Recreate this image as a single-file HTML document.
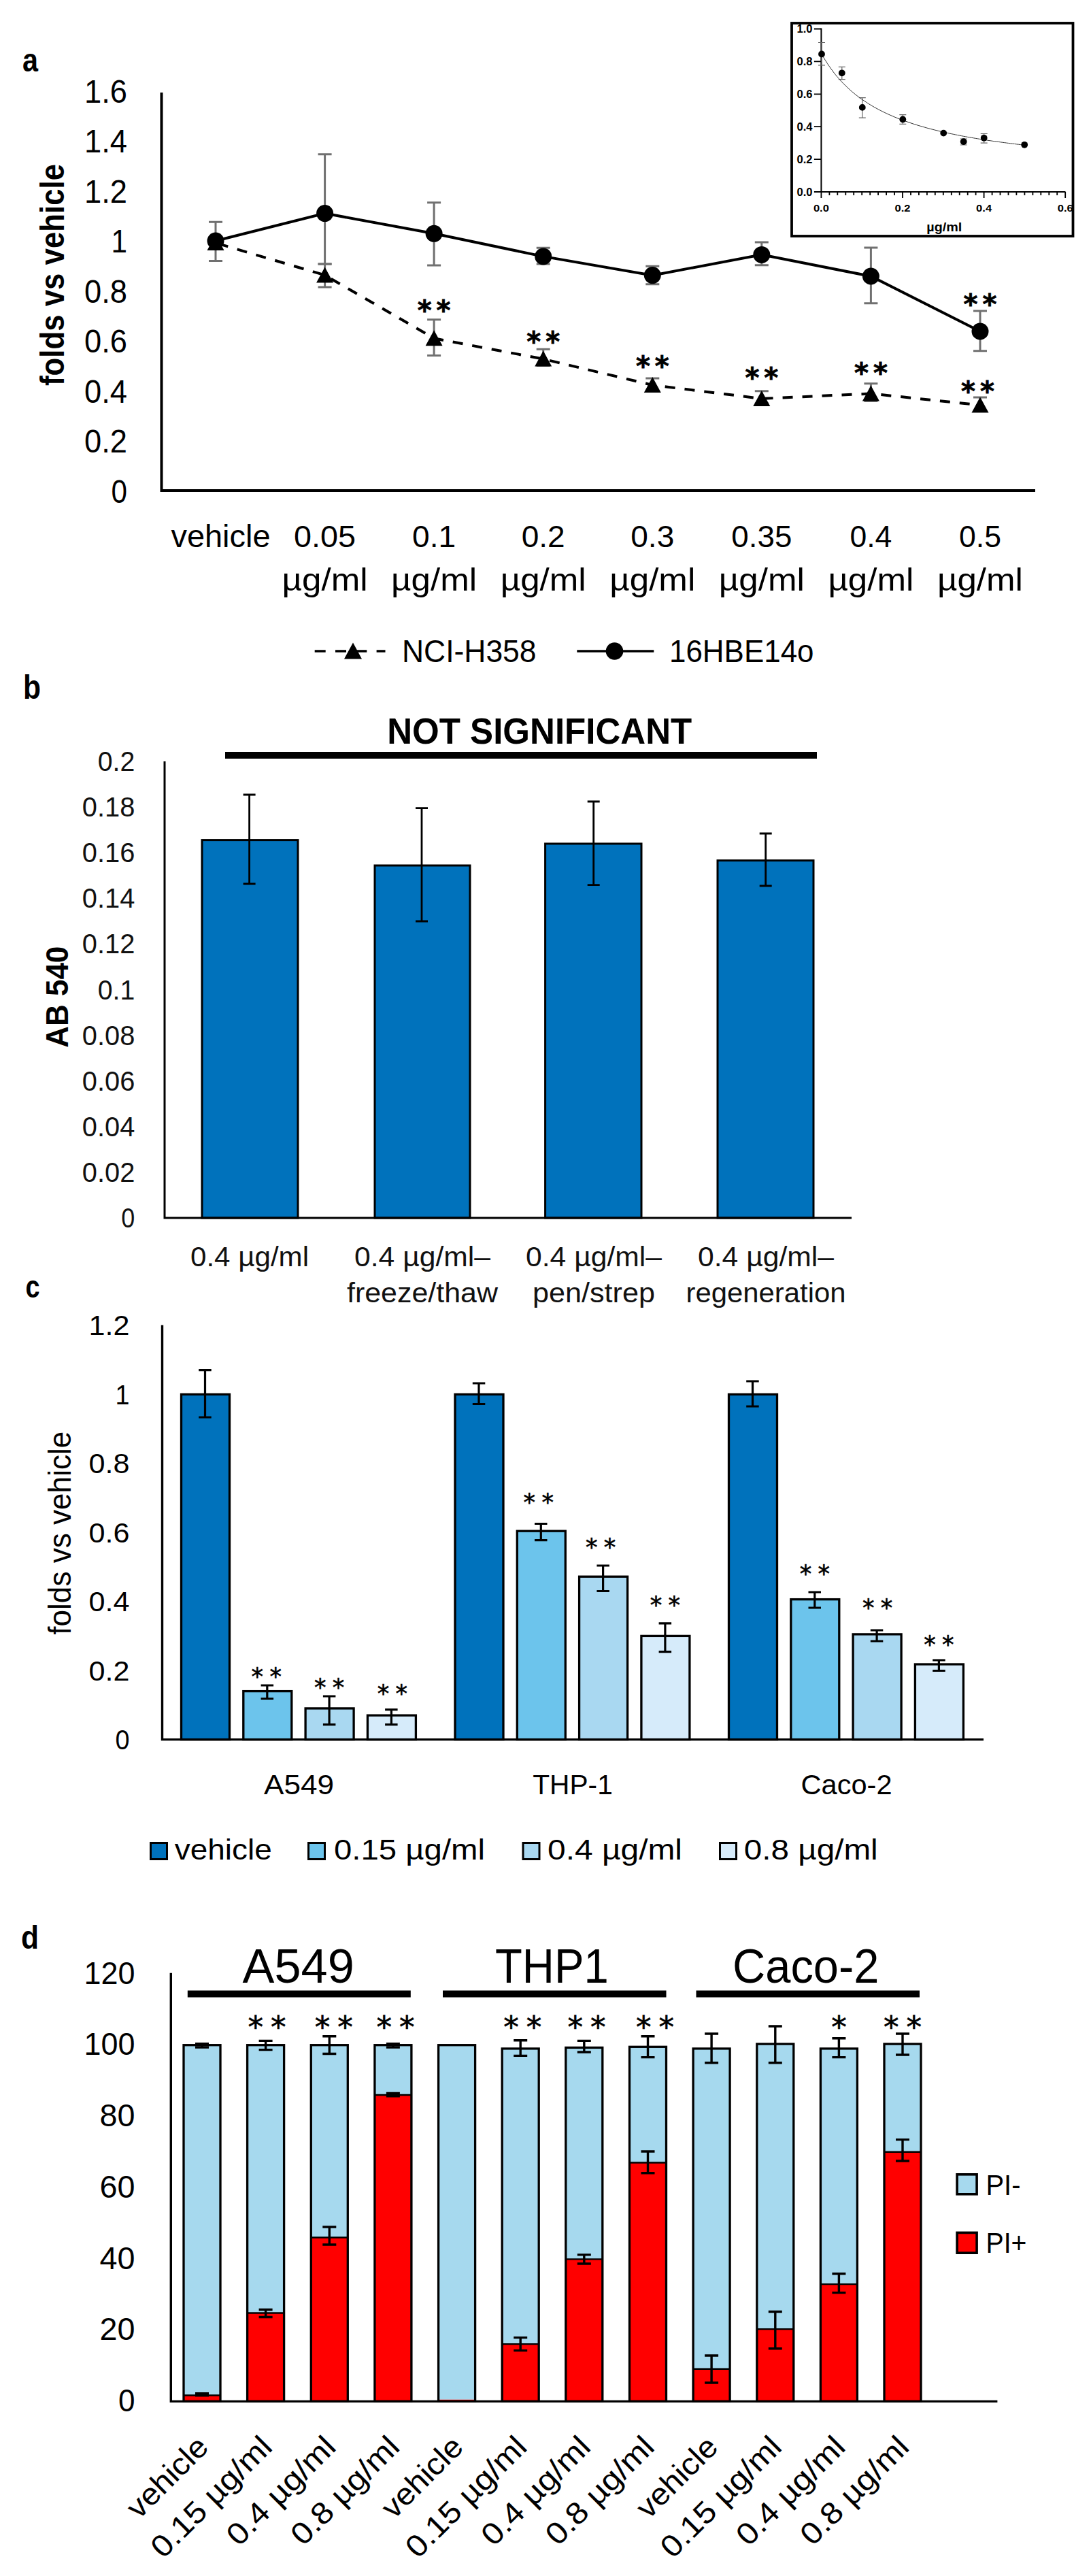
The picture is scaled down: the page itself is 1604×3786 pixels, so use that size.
<!DOCTYPE html>
<html lang="en">
<head>
<meta charset="utf-8">
<title>Figure</title>
<style>
html,body{margin:0;padding:0;background:#fff;}
body{width:1604px;height:3786px;overflow:hidden;}
svg{display:block;}
svg text{font-family:"Liberation Sans",sans-serif;}
svg text.st{font-family:"DejaVu Sans","Liberation Sans",sans-serif;}
</style>
</head>
<body>
<svg width="1604" height="3786" viewBox="0 0 1604 3786">
<rect width="1604" height="3786" fill="#fff"/>
<!-- panel a -->
<text font-size="48" font-weight="bold" textLength="23" lengthAdjust="spacingAndGlyphs" x="33" y="105">a</text>
<path d="M237.5 136V721H1522" fill="none" stroke="#000" stroke-width="4"/>
<text font-size="49" text-anchor="end" textLength="23.5" lengthAdjust="spacingAndGlyphs" x="187" y="738.8">0</text>
<text font-size="49" text-anchor="end" textLength="63" lengthAdjust="spacingAndGlyphs" x="187" y="665.3">0.2</text>
<text font-size="49" text-anchor="end" textLength="63" lengthAdjust="spacingAndGlyphs" x="187" y="591.8">0.4</text>
<text font-size="49" text-anchor="end" textLength="63" lengthAdjust="spacingAndGlyphs" x="187" y="518.3">0.6</text>
<text font-size="49" text-anchor="end" textLength="63" lengthAdjust="spacingAndGlyphs" x="187" y="444.79999999999995">0.8</text>
<text font-size="49" text-anchor="end" textLength="23.5" lengthAdjust="spacingAndGlyphs" x="187" y="371.29999999999995">1</text>
<text font-size="49" text-anchor="end" textLength="63" lengthAdjust="spacingAndGlyphs" x="187" y="297.7999999999999">1.2</text>
<text font-size="49" text-anchor="end" textLength="63" lengthAdjust="spacingAndGlyphs" x="187" y="224.29999999999995">1.4</text>
<text font-size="49" text-anchor="end" textLength="63" lengthAdjust="spacingAndGlyphs" x="187" y="150.79999999999995">1.6</text>
<text font-size="50" text-anchor="middle" font-weight="bold" textLength="326" lengthAdjust="spacingAndGlyphs" transform="translate(94,404) rotate(-90)">folds vs vehicle</text>
<path d="M317.0 326.3V383.5M307.0 326.3h20M307.0 383.5h20" fill="none" stroke="#707070" stroke-width="3"/>
<path d="M477.6 226.7V387.9M467.6 226.7h20M467.6 387.9h20" fill="none" stroke="#707070" stroke-width="3"/>
<path d="M638.1 297.7V390.1M628.1 297.7h20M628.1 390.1h20" fill="none" stroke="#707070" stroke-width="3"/>
<path d="M798.7 364.2V387.9M788.7 364.2h20M788.7 387.9h20" fill="none" stroke="#707070" stroke-width="3"/>
<path d="M959.3 391.3V417.8M949.3 391.3h20M949.3 417.8h20" fill="none" stroke="#707070" stroke-width="3"/>
<path d="M1119.8 356.0V389.8M1109.8 356.0h20M1109.8 389.8h20" fill="none" stroke="#707070" stroke-width="3"/>
<path d="M1280.4 364.0V445.8M1270.4 364.0h20M1270.4 445.8h20" fill="none" stroke="#707070" stroke-width="3"/>
<path d="M1441.0 456.9V515.8M1431.0 456.9h20M1431.0 515.8h20" fill="none" stroke="#707070" stroke-width="3"/>
<path d="M477.6 387.9V422.0M467.6 387.9h20M467.6 422.0h20" fill="none" stroke="#707070" stroke-width="3"/>
<path d="M638.1 469.8V522.6M628.1 469.8h20M628.1 522.6h20" fill="none" stroke="#707070" stroke-width="3"/>
<path d="M798.7 513.3V537.5M788.7 513.3h20M788.7 537.5h20" fill="none" stroke="#707070" stroke-width="3"/>
<path d="M959.3 556.0V575.0M949.3 556.0h20M949.3 575.0h20" fill="none" stroke="#707070" stroke-width="3"/>
<path d="M1119.8 574.8V593.0M1109.8 574.8h20M1109.8 593.0h20" fill="none" stroke="#707070" stroke-width="3"/>
<path d="M1280.4 563.7V589.5M1270.4 563.7h20M1270.4 589.5h20" fill="none" stroke="#707070" stroke-width="3"/>
<path d="M1441.0 584.0V604.0M1431.0 584.0h20M1431.0 604.0h20" fill="none" stroke="#707070" stroke-width="3"/>
<polyline fill="none" stroke="#000" stroke-width="4" points="317.0,354.0 477.6,313.6 638.1,343.3 798.7,376.9 959.3,404.6 1119.8,374.4 1280.4,406.0 1441.0,487.0"/>
<polyline fill="none" stroke="#000" stroke-width="4" stroke-dasharray="15 14" stroke-dashoffset="-4" points="317.0,357.0 477.6,404.4 638.1,497.3 798.7,527.6 959.3,566.0 1119.8,585.9 1280.4,578.5 1441.0,595.4"/>
<circle cx="317.0" cy="354.0" r="12.5"/>
<circle cx="477.6" cy="313.6" r="12.5"/>
<circle cx="638.1" cy="343.3" r="12.5"/>
<circle cx="798.7" cy="376.9" r="12.5"/>
<circle cx="959.3" cy="404.6" r="12.5"/>
<circle cx="1119.8" cy="374.4" r="12.5"/>
<circle cx="1280.4" cy="406.0" r="12.5"/>
<circle cx="1441.0" cy="487.0" r="12.5"/>
<path d="M317.0 345.0l12.5 23h-25z"/>
<path d="M477.6 392.4l12.5 23h-25z"/>
<path d="M638.1 485.3l12.5 23h-25z"/>
<path d="M798.7 515.6l12.5 23h-25z"/>
<path d="M959.3 554.0l12.5 23h-25z"/>
<path d="M1119.8 573.9l12.5 23h-25z"/>
<path d="M1280.4 566.5l12.5 23h-25z"/>
<path d="M1441.0 583.4l12.5 23h-25z"/>
<text x="641.6" y="469.8" font-size="40" text-anchor="middle" letter-spacing="7" class="st" font-weight="bold" stroke="#000" stroke-width="0.8">**</text>
<text x="802.2" y="515.6" font-size="40" text-anchor="middle" letter-spacing="7" class="st" font-weight="bold" stroke="#000" stroke-width="0.8">**</text>
<text x="962.8" y="552.2" font-size="40" text-anchor="middle" letter-spacing="7" class="st" font-weight="bold" stroke="#000" stroke-width="0.8">**</text>
<text x="1123.3" y="569.3" font-size="40" text-anchor="middle" letter-spacing="7" class="st" font-weight="bold" stroke="#000" stroke-width="0.8">**</text>
<text x="1283.9" y="561.9" font-size="40" text-anchor="middle" letter-spacing="7" class="st" font-weight="bold" stroke="#000" stroke-width="0.8">**</text>
<text x="1441.0" y="589.2" font-size="40" text-anchor="middle" letter-spacing="7" class="st" font-weight="bold" stroke="#000" stroke-width="0.8">**</text>
<text x="1444.5" y="460.5" font-size="40" text-anchor="middle" letter-spacing="7" class="st" font-weight="bold" stroke="#000" stroke-width="0.8">**</text>
<text font-size="47" textLength="146" lengthAdjust="spacingAndGlyphs" x="251.5" y="804">vehicle</text>
<text font-size="45" text-anchor="middle" textLength="91" lengthAdjust="spacingAndGlyphs" x="477.57" y="804">0.05</text>
<text font-size="47" text-anchor="middle" textLength="126" lengthAdjust="spacingAndGlyphs" x="477.57" y="868">µg/ml</text>
<text font-size="45" text-anchor="middle" textLength="64" lengthAdjust="spacingAndGlyphs" x="638.14" y="804">0.1</text>
<text font-size="47" text-anchor="middle" textLength="126" lengthAdjust="spacingAndGlyphs" x="638.14" y="868">µg/ml</text>
<text font-size="45" text-anchor="middle" textLength="64" lengthAdjust="spacingAndGlyphs" x="798.71" y="804">0.2</text>
<text font-size="47" text-anchor="middle" textLength="126" lengthAdjust="spacingAndGlyphs" x="798.71" y="868">µg/ml</text>
<text font-size="45" text-anchor="middle" textLength="64" lengthAdjust="spacingAndGlyphs" x="959.28" y="804">0.3</text>
<text font-size="47" text-anchor="middle" textLength="126" lengthAdjust="spacingAndGlyphs" x="959.28" y="868">µg/ml</text>
<text font-size="45" text-anchor="middle" textLength="89" lengthAdjust="spacingAndGlyphs" x="1119.85" y="804">0.35</text>
<text font-size="47" text-anchor="middle" textLength="126" lengthAdjust="spacingAndGlyphs" x="1119.85" y="868">µg/ml</text>
<text font-size="45" text-anchor="middle" textLength="62" lengthAdjust="spacingAndGlyphs" x="1280.42" y="804">0.4</text>
<text font-size="47" text-anchor="middle" textLength="126" lengthAdjust="spacingAndGlyphs" x="1280.42" y="868">µg/ml</text>
<text font-size="45" text-anchor="middle" textLength="62" lengthAdjust="spacingAndGlyphs" x="1440.99" y="804">0.5</text>
<text font-size="47" text-anchor="middle" textLength="126" lengthAdjust="spacingAndGlyphs" x="1440.99" y="868">µg/ml</text>
<line x1="462.7" y1="957.0" x2="566.5" y2="957.0" stroke="#000" stroke-width="3.5" stroke-dasharray="16 14.3"/>
<path d="M519 944.5l13 24h-26z"/>
<text font-size="47" textLength="197.5" lengthAdjust="spacingAndGlyphs" x="591" y="973">NCI-H358</text>
<line x1="848.3" y1="957.0" x2="961.3" y2="957.0" stroke="#000" stroke-width="3.5"/>
<circle cx="903.5" cy="957" r="12.8"/>
<text font-size="47" textLength="212.5" lengthAdjust="spacingAndGlyphs" x="984" y="973">16HBE14o</text>
<!-- inset -->
<path d="M1207.4 41.5V282.0H1566.5" fill="none" stroke="#000" stroke-width="2"/>
<text font-size="16.5" text-anchor="end" font-weight="bold" textLength="23" lengthAdjust="spacingAndGlyphs" x="1194.5" y="287.9">0.0</text>
<text font-size="16.5" text-anchor="end" font-weight="bold" textLength="23" lengthAdjust="spacingAndGlyphs" x="1194.5" y="240.0">0.2</text>
<text font-size="16.5" text-anchor="end" font-weight="bold" textLength="23" lengthAdjust="spacingAndGlyphs" x="1194.5" y="192.1">0.4</text>
<text font-size="16.5" text-anchor="end" font-weight="bold" textLength="23" lengthAdjust="spacingAndGlyphs" x="1194.5" y="144.2">0.6</text>
<text font-size="16.5" text-anchor="end" font-weight="bold" textLength="23" lengthAdjust="spacingAndGlyphs" x="1194.5" y="96.29999999999998">0.8</text>
<text font-size="16.5" text-anchor="end" font-weight="bold" textLength="23" lengthAdjust="spacingAndGlyphs" x="1194.5" y="48.4">1.0</text>
<path d="M1196.9 282.0h10.5M1196.9 234.1h10.5M1196.9 186.2h10.5M1196.9 138.3h10.5M1196.9 90.4h10.5M1196.9 42.5h10.5M1207.4 282.0v9M1219.4 282.0v5M1231.3 282.0v5M1243.3 282.0v5M1255.2 282.0v5M1267.2 282.0v5M1279.2 282.0v5M1291.1 282.0v5M1303.1 282.0v5M1315.0 282.0v5M1327.0 282.0v9M1339.0 282.0v5M1350.9 282.0v5M1362.9 282.0v5M1374.8 282.0v5M1386.8 282.0v5M1398.8 282.0v5M1410.7 282.0v5M1422.7 282.0v5M1434.6 282.0v5M1446.6 282.0v9M1458.6 282.0v5M1470.5 282.0v5M1482.5 282.0v5M1494.4 282.0v5M1506.4 282.0v5M1518.4 282.0v5M1530.3 282.0v5M1542.3 282.0v5M1554.2 282.0v5M1566.2 282.0v9" fill="none" stroke="#000" stroke-width="1.8"/>
<text font-size="15.5" text-anchor="middle" font-weight="bold" textLength="23" lengthAdjust="spacingAndGlyphs" x="1207.4" y="311">0.0</text>
<text font-size="15.5" text-anchor="middle" font-weight="bold" textLength="23" lengthAdjust="spacingAndGlyphs" x="1327.0" y="311">0.2</text>
<text font-size="15.5" text-anchor="middle" font-weight="bold" textLength="23" lengthAdjust="spacingAndGlyphs" x="1446.6000000000001" y="311">0.4</text>
<text font-size="15.5" text-anchor="middle" font-weight="bold" textLength="23" lengthAdjust="spacingAndGlyphs" x="1566.2" y="311">0.6</text>
<text font-size="18" text-anchor="middle" font-weight="bold" textLength="52" lengthAdjust="spacingAndGlyphs" x="1388.3" y="339.5">µg/ml</text>
<path d="M1208.0 62.5V95.8M1203.0 62.5h10M1203.0 95.8h10" fill="none" stroke="#666" stroke-width="1.2"/>
<path d="M1237.8 98.3V116.6M1232.8 98.3h10M1232.8 116.6h10" fill="none" stroke="#666" stroke-width="1.2"/>
<path d="M1267.8 143.7V173.2M1262.8 143.7h10M1262.8 173.2h10" fill="none" stroke="#666" stroke-width="1.2"/>
<path d="M1327.3 168.6V182.4M1322.3 168.6h10M1322.3 182.4h10" fill="none" stroke="#666" stroke-width="1.2"/>
<path d="M1416.7 204.0V213.0M1411.7 204.0h10M1411.7 213.0h10" fill="none" stroke="#666" stroke-width="1.2"/>
<path d="M1446.7 196.5V210.2M1441.7 196.5h10M1441.7 210.2h10" fill="none" stroke="#666" stroke-width="1.2"/>
<polyline fill="none" stroke="#333" stroke-width="1" points="1207.4,78.4 1210.4,83.7 1213.4,88.6 1216.4,93.3 1219.4,97.7 1222.4,101.9 1225.3,105.9 1228.3,109.7 1231.3,113.3 1234.3,116.7 1237.3,120.0 1240.3,123.1 1243.3,126.1 1246.3,129.0 1249.3,131.7 1252.2,134.3 1255.2,136.8 1258.2,139.3 1261.2,141.6 1264.2,143.8 1267.2,146.0 1270.2,148.0 1273.2,150.0 1276.2,151.9 1279.2,153.8 1282.2,155.6 1285.1,157.3 1288.1,159.0 1291.1,160.6 1294.1,162.2 1297.1,163.7 1300.1,165.2 1303.1,166.6 1306.1,168.0 1309.1,169.3 1312.1,170.6 1315.0,171.9 1318.0,173.1 1321.0,174.3 1324.0,175.5 1327.0,176.6 1330.0,177.7 1333.0,178.7 1336.0,179.8 1339.0,180.8 1342.0,181.8 1344.9,182.8 1347.9,183.7 1350.9,184.6 1353.9,185.5 1356.9,186.4 1359.9,187.2 1362.9,188.1 1365.9,188.9 1368.9,189.7 1371.9,190.4 1374.8,191.2 1377.8,191.9 1380.8,192.7 1383.8,193.4 1386.8,194.1 1389.8,194.7 1392.8,195.4 1395.8,196.1 1398.8,196.7 1401.8,197.3 1404.7,197.9 1407.7,198.5 1410.7,199.1 1413.7,199.7 1416.7,200.3 1419.7,200.8 1422.7,201.4 1425.7,201.9 1428.7,202.4 1431.7,202.9 1434.6,203.4 1437.6,203.9 1440.6,204.4 1443.6,204.9 1446.6,205.4 1449.6,205.8 1452.6,206.3 1455.6,206.7 1458.6,207.2 1461.5,207.6 1464.5,208.0 1467.5,208.4 1470.5,208.8 1473.5,209.2 1476.5,209.6 1479.5,210.0 1482.5,210.4 1485.5,210.8 1488.5,211.2 1491.5,211.5 1494.4,211.9 1497.4,212.2 1500.4,212.6 1503.4,212.9 1506.4,213.3"/>
<circle cx="1208.0" cy="79.5" r="4.9"/>
<circle cx="1237.8" cy="107.3" r="4.9"/>
<circle cx="1267.8" cy="157.9" r="4.9"/>
<circle cx="1327.3" cy="175.5" r="4.9"/>
<circle cx="1387.2" cy="195.6" r="4.9"/>
<circle cx="1416.7" cy="208.2" r="4.9"/>
<circle cx="1446.7" cy="202.8" r="4.9"/>
<circle cx="1506.2" cy="212.8" r="4.9"/>
<rect x="1164" y="34" width="413.5" height="313" fill="none" stroke="#000" stroke-width="3.8"/>
<!-- panel b -->
<text font-size="50" font-weight="bold" textLength="26" lengthAdjust="spacingAndGlyphs" x="34" y="1027">b</text>
<text font-size="54.5" text-anchor="middle" font-weight="bold" textLength="448" lengthAdjust="spacingAndGlyphs" x="793.2" y="1092.5">NOT SIGNIFICANT</text>
<line x1="331.0" y1="1110.0" x2="1201.0" y2="1110.0" stroke="#000" stroke-width="10"/>
<text font-size="40" text-anchor="end" textLength="20" lengthAdjust="spacingAndGlyphs" fill="#111" x="198.3" y="1804.0">0</text>
<text font-size="40" text-anchor="end" textLength="77.5" lengthAdjust="spacingAndGlyphs" fill="#111" x="198.3" y="1736.9">0.02</text>
<text font-size="40" text-anchor="end" textLength="77.5" lengthAdjust="spacingAndGlyphs" fill="#111" x="198.3" y="1669.8">0.04</text>
<text font-size="40" text-anchor="end" textLength="77.5" lengthAdjust="spacingAndGlyphs" fill="#111" x="198.3" y="1602.7">0.06</text>
<text font-size="40" text-anchor="end" textLength="77.5" lengthAdjust="spacingAndGlyphs" fill="#111" x="198.3" y="1535.6">0.08</text>
<text font-size="40" text-anchor="end" textLength="54.5" lengthAdjust="spacingAndGlyphs" fill="#111" x="198.3" y="1468.5">0.1</text>
<text font-size="40" text-anchor="end" textLength="77.5" lengthAdjust="spacingAndGlyphs" fill="#111" x="198.3" y="1401.4">0.12</text>
<text font-size="40" text-anchor="end" textLength="77.5" lengthAdjust="spacingAndGlyphs" fill="#111" x="198.3" y="1334.3">0.14</text>
<text font-size="40" text-anchor="end" textLength="77.5" lengthAdjust="spacingAndGlyphs" fill="#111" x="198.3" y="1267.2">0.16</text>
<text font-size="40" text-anchor="end" textLength="77.5" lengthAdjust="spacingAndGlyphs" fill="#111" x="198.3" y="1200.1">0.18</text>
<text font-size="40" text-anchor="end" textLength="54.5" lengthAdjust="spacingAndGlyphs" fill="#111" x="198.3" y="1133.0">0.2</text>
<text font-size="46" text-anchor="middle" font-weight="bold" textLength="149" lengthAdjust="spacingAndGlyphs" transform="translate(99.6,1465.2) rotate(-90)">AB 540</text>
<rect x="297.0" y="1234.6" width="141.0" height="555.4" fill="#0072bc" stroke="#000" stroke-width="3"/>
<rect x="551.0" y="1272.0" width="140.0" height="518.0" fill="#0072bc" stroke="#000" stroke-width="3"/>
<rect x="801.6" y="1240.0" width="141.4" height="550.0" fill="#0072bc" stroke="#000" stroke-width="3"/>
<rect x="1055.0" y="1264.7" width="141.0" height="525.3" fill="#0072bc" stroke="#000" stroke-width="3"/>
<path d="M242 1119V1790H1252" fill="none" stroke="#000" stroke-width="3"/>
<path d="M366.6 1168.0V1299.0M357.6 1168.0h18M357.6 1299.0h18" fill="none" stroke="#000" stroke-width="2.8"/>
<path d="M620.0 1187.7V1354.0M611.0 1187.7h18M611.0 1354.0h18" fill="none" stroke="#000" stroke-width="2.8"/>
<path d="M872.7 1178.0V1300.6M863.7 1178.0h18M863.7 1300.6h18" fill="none" stroke="#000" stroke-width="2.8"/>
<path d="M1125.7 1225.0V1302.0M1116.7 1225.0h18M1116.7 1302.0h18" fill="none" stroke="#000" stroke-width="2.8"/>
<text font-size="40" text-anchor="middle" textLength="174" lengthAdjust="spacingAndGlyphs" fill="#111" x="367" y="1861.2">0.4 µg/ml</text>
<text font-size="40" text-anchor="middle" textLength="200" lengthAdjust="spacingAndGlyphs" fill="#111" x="621" y="1861.2">0.4 µg/ml–</text>
<text font-size="40.5" text-anchor="middle" textLength="222" lengthAdjust="spacingAndGlyphs" fill="#111" x="621" y="1913.6">freeze/thaw</text>
<text font-size="40" text-anchor="middle" textLength="200" lengthAdjust="spacingAndGlyphs" fill="#111" x="873" y="1861.2">0.4 µg/ml–</text>
<text font-size="40.5" text-anchor="middle" textLength="180" lengthAdjust="spacingAndGlyphs" fill="#111" x="873" y="1913.6">pen/strep</text>
<text font-size="40" text-anchor="middle" textLength="200" lengthAdjust="spacingAndGlyphs" fill="#111" x="1126" y="1861.2">0.4 µg/ml–</text>
<text font-size="40.5" text-anchor="middle" textLength="235" lengthAdjust="spacingAndGlyphs" fill="#111" x="1126" y="1913.6">regeneration</text>
<!-- panel c -->
<text font-size="47" font-weight="bold" textLength="21" lengthAdjust="spacingAndGlyphs" x="37.5" y="1907">c</text>
<text font-size="41" text-anchor="end" textLength="21" lengthAdjust="spacingAndGlyphs" x="190.5" y="2571.1">0</text>
<text font-size="41" text-anchor="end" textLength="60" lengthAdjust="spacingAndGlyphs" x="190.5" y="2469.64">0.2</text>
<text font-size="41" text-anchor="end" textLength="60" lengthAdjust="spacingAndGlyphs" x="190.5" y="2368.18">0.4</text>
<text font-size="41" text-anchor="end" textLength="60" lengthAdjust="spacingAndGlyphs" x="190.5" y="2266.72">0.6</text>
<text font-size="41" text-anchor="end" textLength="60" lengthAdjust="spacingAndGlyphs" x="190.5" y="2165.2599999999998">0.8</text>
<text font-size="41" text-anchor="end" textLength="21" lengthAdjust="spacingAndGlyphs" x="190.5" y="2063.7999999999997">1</text>
<text font-size="41" text-anchor="end" textLength="60" lengthAdjust="spacingAndGlyphs" x="190.5" y="1962.3399999999997">1.2</text>
<text font-size="46" text-anchor="middle" textLength="299" lengthAdjust="spacingAndGlyphs" transform="translate(103.8,2253.2) rotate(-90)">folds vs vehicle</text>
<rect x="266.5" y="2049.3" width="71.0" height="507.3" fill="#0072bc" stroke="#000" stroke-width="3.3"/>
<rect x="357.8" y="2485.6" width="71.0" height="71.0" fill="#6cc4ec" stroke="#000" stroke-width="3.3"/>
<rect x="449.1" y="2510.9" width="71.0" height="45.7" fill="#a9d8f1" stroke="#000" stroke-width="3.3"/>
<rect x="540.4" y="2521.1" width="71.0" height="35.5" fill="#d6ebfa" stroke="#000" stroke-width="3.3"/>
<rect x="669.0" y="2049.3" width="71.0" height="507.3" fill="#0072bc" stroke="#000" stroke-width="3.3"/>
<rect x="760.3" y="2250.2" width="71.0" height="306.4" fill="#6cc4ec" stroke="#000" stroke-width="3.3"/>
<rect x="851.6" y="2317.2" width="71.0" height="239.4" fill="#a9d8f1" stroke="#000" stroke-width="3.3"/>
<rect x="942.9" y="2404.4" width="71.0" height="152.2" fill="#d6ebfa" stroke="#000" stroke-width="3.3"/>
<rect x="1071.5" y="2049.3" width="71.0" height="507.3" fill="#0072bc" stroke="#000" stroke-width="3.3"/>
<rect x="1162.8" y="2350.6" width="71.0" height="206.0" fill="#6cc4ec" stroke="#000" stroke-width="3.3"/>
<rect x="1254.1" y="2401.9" width="71.0" height="154.7" fill="#a9d8f1" stroke="#000" stroke-width="3.3"/>
<rect x="1345.4" y="2446.0" width="71.0" height="110.6" fill="#d6ebfa" stroke="#000" stroke-width="3.3"/>
<path d="M301.5 2013.6V2083.0M292.2 2013.6h18.5M292.2 2083.0h18.5" fill="none" stroke="#000" stroke-width="3.2"/>
<path d="M392.8 2477.0V2496.5M383.6 2477.0h18.5M383.6 2496.5h18.5" fill="none" stroke="#000" stroke-width="3.2"/>
<text x="396.4" y="2476.0" font-size="35" text-anchor="middle" letter-spacing="9.3" class="st" stroke="#000" stroke-width="0.6">**</text>
<path d="M484.1 2493.0V2534.6M474.9 2493.0h18.5M474.9 2534.6h18.5" fill="none" stroke="#000" stroke-width="3.2"/>
<text x="488.8" y="2492.4" font-size="35" text-anchor="middle" letter-spacing="9.3" class="st" stroke="#000" stroke-width="0.6">**</text>
<path d="M575.4 2512.6V2534.6M566.1 2512.6h18.5M566.1 2534.6h18.5" fill="none" stroke="#000" stroke-width="3.2"/>
<text x="581.6" y="2501.4" font-size="35" text-anchor="middle" letter-spacing="9.3" class="st" stroke="#000" stroke-width="0.6">**</text>
<path d="M704.0 2033.0V2063.5M694.8 2033.0h18.5M694.8 2063.5h18.5" fill="none" stroke="#000" stroke-width="3.2"/>
<path d="M795.3 2239.5V2263.7M786.0 2239.5h18.5M786.0 2263.7h18.5" fill="none" stroke="#000" stroke-width="3.2"/>
<text x="796.4" y="2220.4" font-size="35" text-anchor="middle" letter-spacing="9.3" class="st" stroke="#000" stroke-width="0.6">**</text>
<path d="M886.6 2301.0V2338.5M877.4 2301.0h18.5M877.4 2338.5h18.5" fill="none" stroke="#000" stroke-width="3.2"/>
<text x="887.8" y="2286.4" font-size="35" text-anchor="middle" letter-spacing="9.3" class="st" stroke="#000" stroke-width="0.6">**</text>
<path d="M977.9 2385.8V2427.6M968.6 2385.8h18.5M968.6 2427.6h18.5" fill="none" stroke="#000" stroke-width="3.2"/>
<text x="982.5" y="2371.4" font-size="35" text-anchor="middle" letter-spacing="9.3" class="st" stroke="#000" stroke-width="0.6">**</text>
<path d="M1106.5 2030.0V2067.0M1097.2 2030.0h18.5M1097.2 2067.0h18.5" fill="none" stroke="#000" stroke-width="3.2"/>
<path d="M1197.8 2340.0V2363.0M1188.5 2340.0h18.5M1188.5 2363.0h18.5" fill="none" stroke="#000" stroke-width="3.2"/>
<text x="1202.5" y="2325.4" font-size="35" text-anchor="middle" letter-spacing="9.3" class="st" stroke="#000" stroke-width="0.6">**</text>
<path d="M1289.1 2396.0V2412.0M1279.8 2396.0h18.5M1279.8 2412.0h18.5" fill="none" stroke="#000" stroke-width="3.2"/>
<text x="1294.8" y="2375.4" font-size="35" text-anchor="middle" letter-spacing="9.3" class="st" stroke="#000" stroke-width="0.6">**</text>
<path d="M1380.4 2440.0V2455.5M1371.2 2440.0h18.5M1371.2 2455.5h18.5" fill="none" stroke="#000" stroke-width="3.2"/>
<text x="1385.1" y="2429.4" font-size="35" text-anchor="middle" letter-spacing="9.3" class="st" stroke="#000" stroke-width="0.6">**</text>
<path d="M238.5 1947.5V2556.6H1446" fill="none" stroke="#000" stroke-width="3.4"/>
<text font-size="40.5" text-anchor="middle" textLength="103" lengthAdjust="spacingAndGlyphs" x="439.5" y="2636.5">A549</text>
<text font-size="40.5" text-anchor="middle" textLength="117.5" lengthAdjust="spacingAndGlyphs" x="842" y="2636.5">THP-1</text>
<text font-size="40.5" text-anchor="middle" textLength="134" lengthAdjust="spacingAndGlyphs" x="1244.5" y="2636.5">Caco-2</text>
<rect x="221.5" y="2708.5" width="24.0" height="24.0" fill="#0072bc" stroke="#000" stroke-width="3"/>
<text font-size="43" textLength="143" lengthAdjust="spacingAndGlyphs" x="256.7" y="2732.8">vehicle</text>
<rect x="453.5" y="2708.5" width="24.0" height="24.0" fill="#6cc4ec" stroke="#000" stroke-width="3"/>
<text font-size="43" textLength="222" lengthAdjust="spacingAndGlyphs" x="491" y="2732.8">0.15 µg/ml</text>
<rect x="769.0" y="2708.5" width="24.0" height="24.0" fill="#a9d8f1" stroke="#000" stroke-width="3"/>
<text font-size="43" textLength="198" lengthAdjust="spacingAndGlyphs" x="805" y="2732.8">0.4 µg/ml</text>
<rect x="1058.5" y="2708.5" width="24.0" height="24.0" fill="#d6ebfa" stroke="#000" stroke-width="3"/>
<text font-size="43" textLength="197" lengthAdjust="spacingAndGlyphs" x="1093.7" y="2732.8">0.8 µg/ml</text>
<!-- panel d -->
<text font-size="48" font-weight="bold" textLength="26" lengthAdjust="spacingAndGlyphs" x="31" y="2863.5">d</text>
<text font-size="47" text-anchor="end" textLength="24.5" lengthAdjust="spacingAndGlyphs" x="198.5" y="3544.1">0</text>
<text font-size="47" text-anchor="end" textLength="52" lengthAdjust="spacingAndGlyphs" x="198.5" y="3439.3599999999997">20</text>
<text font-size="47" text-anchor="end" textLength="52" lengthAdjust="spacingAndGlyphs" x="198.5" y="3334.62">40</text>
<text font-size="47" text-anchor="end" textLength="52" lengthAdjust="spacingAndGlyphs" x="198.5" y="3229.88">60</text>
<text font-size="47" text-anchor="end" textLength="52" lengthAdjust="spacingAndGlyphs" x="198.5" y="3125.14">80</text>
<text font-size="47" text-anchor="end" textLength="75" lengthAdjust="spacingAndGlyphs" x="198.5" y="3020.3999999999996">100</text>
<text font-size="47" text-anchor="end" textLength="75" lengthAdjust="spacingAndGlyphs" x="198.5" y="2915.66">120</text>
<rect x="270.0" y="3005.7" width="54" height="514.8" fill="#a6d9ee"/>
<rect x="270.0" y="3520.5" width="54" height="8.9" fill="#ff0000"/>
<line x1="270.0" y1="3520.5" x2="324.0" y2="3520.5" stroke="#000" stroke-width="2.4"/>
<rect x="270.0" y="3005.7" width="54" height="523.7" fill="none" stroke="#000" stroke-width="3.3"/>
<rect x="363.6" y="3005.7" width="54" height="393.8" fill="#a6d9ee"/>
<rect x="363.6" y="3399.5" width="54" height="129.9" fill="#ff0000"/>
<line x1="363.6" y1="3399.5" x2="417.6" y2="3399.5" stroke="#000" stroke-width="2.4"/>
<rect x="363.6" y="3005.7" width="54" height="523.7" fill="none" stroke="#000" stroke-width="3.3"/>
<rect x="457.3" y="3005.7" width="54" height="282.8" fill="#a6d9ee"/>
<rect x="457.3" y="3288.5" width="54" height="240.9" fill="#ff0000"/>
<line x1="457.3" y1="3288.5" x2="511.3" y2="3288.5" stroke="#000" stroke-width="2.4"/>
<rect x="457.3" y="3005.7" width="54" height="523.7" fill="none" stroke="#000" stroke-width="3.3"/>
<rect x="550.9" y="3005.7" width="54" height="73.3" fill="#a6d9ee"/>
<rect x="550.9" y="3079.0" width="54" height="450.4" fill="#ff0000"/>
<line x1="550.9" y1="3079.0" x2="604.9" y2="3079.0" stroke="#000" stroke-width="2.4"/>
<rect x="550.9" y="3005.7" width="54" height="523.7" fill="none" stroke="#000" stroke-width="3.3"/>
<rect x="644.6" y="3005.7" width="54" height="521.1" fill="#a6d9ee"/>
<rect x="644.6" y="3526.8" width="54" height="2.6" fill="#ff0000"/>
<rect x="644.6" y="3005.7" width="54" height="523.7" fill="none" stroke="#000" stroke-width="3.3"/>
<rect x="738.2" y="3010.9" width="54" height="434.1" fill="#a6d9ee"/>
<rect x="738.2" y="3445.1" width="54" height="84.3" fill="#ff0000"/>
<line x1="738.2" y1="3445.1" x2="792.2" y2="3445.1" stroke="#000" stroke-width="2.4"/>
<rect x="738.2" y="3010.9" width="54" height="518.5" fill="none" stroke="#000" stroke-width="3.3"/>
<rect x="831.8" y="3009.4" width="54" height="311.1" fill="#a6d9ee"/>
<rect x="831.8" y="3320.4" width="54" height="209.0" fill="#ff0000"/>
<line x1="831.8" y1="3320.4" x2="885.8" y2="3320.4" stroke="#000" stroke-width="2.4"/>
<rect x="831.8" y="3009.4" width="54" height="520.0" fill="none" stroke="#000" stroke-width="3.3"/>
<rect x="925.5" y="3008.3" width="54" height="170.2" fill="#a6d9ee"/>
<rect x="925.5" y="3178.5" width="54" height="350.9" fill="#ff0000"/>
<line x1="925.5" y1="3178.5" x2="979.5" y2="3178.5" stroke="#000" stroke-width="2.4"/>
<rect x="925.5" y="3008.3" width="54" height="521.1" fill="none" stroke="#000" stroke-width="3.3"/>
<rect x="1019.1" y="3010.9" width="54" height="470.8" fill="#a6d9ee"/>
<rect x="1019.1" y="3481.7" width="54" height="47.7" fill="#ff0000"/>
<line x1="1019.1" y1="3481.7" x2="1073.1" y2="3481.7" stroke="#000" stroke-width="2.4"/>
<rect x="1019.1" y="3010.9" width="54" height="518.5" fill="none" stroke="#000" stroke-width="3.3"/>
<rect x="1112.8" y="3004.1" width="54" height="419.0" fill="#a6d9ee"/>
<rect x="1112.8" y="3423.1" width="54" height="106.3" fill="#ff0000"/>
<line x1="1112.8" y1="3423.1" x2="1166.8" y2="3423.1" stroke="#000" stroke-width="2.4"/>
<rect x="1112.8" y="3004.1" width="54" height="525.3" fill="none" stroke="#000" stroke-width="3.3"/>
<rect x="1206.4" y="3010.9" width="54" height="346.2" fill="#a6d9ee"/>
<rect x="1206.4" y="3357.1" width="54" height="172.3" fill="#ff0000"/>
<line x1="1206.4" y1="3357.1" x2="1260.4" y2="3357.1" stroke="#000" stroke-width="2.4"/>
<rect x="1206.4" y="3010.9" width="54" height="518.5" fill="none" stroke="#000" stroke-width="3.3"/>
<rect x="1300.0" y="3004.1" width="54" height="158.7" fill="#a6d9ee"/>
<rect x="1300.0" y="3162.8" width="54" height="366.6" fill="#ff0000"/>
<line x1="1300.0" y1="3162.8" x2="1354.0" y2="3162.8" stroke="#000" stroke-width="2.4"/>
<rect x="1300.0" y="3004.1" width="54" height="525.3" fill="none" stroke="#000" stroke-width="3.3"/>
<path d="M297.0 3517.8V3520.8M287.0 3517.8h20M287.0 3520.8h20" fill="none" stroke="#000" stroke-width="3.4"/>
<path d="M297.0 3003.8V3009.0M287.0 3003.8h20M287.0 3009.0h20" fill="none" stroke="#000" stroke-width="3.4"/>
<path d="M390.6 3394.5V3405.5M380.6 3394.5h20M380.6 3405.5h20" fill="none" stroke="#000" stroke-width="3.4"/>
<path d="M390.6 2999.4V3012.6M380.6 2999.4h20M380.6 3012.6h20" fill="none" stroke="#000" stroke-width="3.4"/>
<path d="M484.3 3273.0V3299.0M474.3 3273.0h20M474.3 3299.0h20" fill="none" stroke="#000" stroke-width="3.4"/>
<path d="M484.3 2992.8V3018.5M474.3 2992.8h20M474.3 3018.5h20" fill="none" stroke="#000" stroke-width="3.4"/>
<path d="M577.9 3076.4V3080.8M567.9 3076.4h20M567.9 3080.8h20" fill="none" stroke="#000" stroke-width="3.4"/>
<path d="M577.9 3003.8V3009.0M567.9 3003.8h20M567.9 3009.0h20" fill="none" stroke="#000" stroke-width="3.4"/>
<path d="M765.2 3435.6V3454.6M755.2 3435.6h20M755.2 3454.6h20" fill="none" stroke="#000" stroke-width="3.4"/>
<path d="M765.2 2998.7V3021.4M755.2 2998.7h20M755.2 3021.4h20" fill="none" stroke="#000" stroke-width="3.4"/>
<path d="M858.8 3313.9V3327.0M848.8 3313.9h20M848.8 3327.0h20" fill="none" stroke="#000" stroke-width="3.4"/>
<path d="M858.8 2999.4V3016.0M848.8 2999.4h20M848.8 3016.0h20" fill="none" stroke="#000" stroke-width="3.4"/>
<path d="M952.5 3162.0V3193.7M942.5 3162.0h20M942.5 3193.7h20" fill="none" stroke="#000" stroke-width="3.4"/>
<path d="M952.5 2992.8V3023.6M942.5 2992.8h20M942.5 3023.6h20" fill="none" stroke="#000" stroke-width="3.4"/>
<path d="M1046.1 3462.0V3502.0M1036.1 3462.0h20M1036.1 3502.0h20" fill="none" stroke="#000" stroke-width="3.4"/>
<path d="M1046.1 2989.0V3031.7M1036.1 2989.0h20M1036.1 3031.7h20" fill="none" stroke="#000" stroke-width="3.4"/>
<path d="M1139.8 3397.5V3451.7M1129.8 3397.5h20M1129.8 3451.7h20" fill="none" stroke="#000" stroke-width="3.4"/>
<path d="M1139.8 2978.0V3031.7M1129.8 2978.0h20M1129.8 3031.7h20" fill="none" stroke="#000" stroke-width="3.4"/>
<path d="M1233.4 3341.7V3369.6M1223.4 3341.7h20M1223.4 3369.6h20" fill="none" stroke="#000" stroke-width="3.4"/>
<path d="M1233.4 2995.7V3023.6M1223.4 2995.7h20M1223.4 3023.6h20" fill="none" stroke="#000" stroke-width="3.4"/>
<path d="M1327.0 3144.6V3176.0M1317.0 3144.6h20M1317.0 3176.0h20" fill="none" stroke="#000" stroke-width="3.4"/>
<path d="M1327.0 2989.0V3020.0M1317.0 2989.0h20M1317.0 3020.0h20" fill="none" stroke="#000" stroke-width="3.4"/>
<path d="M251.3 2899.7V3529.4H1466.4" fill="none" stroke="#000" stroke-width="3.4"/>
<text font-size="71" textLength="164.2" lengthAdjust="spacingAndGlyphs" x="356.6" y="2914">A549</text>
<line x1="275.8" y1="2930.5" x2="603.8" y2="2930.5" stroke="#000" stroke-width="10"/>
<text font-size="71" textLength="166.8" lengthAdjust="spacingAndGlyphs" x="728" y="2914">THP1</text>
<line x1="651.0" y1="2930.5" x2="979.5" y2="2930.5" stroke="#000" stroke-width="10"/>
<text font-size="71" textLength="215.4" lengthAdjust="spacingAndGlyphs" x="1077" y="2914">Caco-2</text>
<line x1="1023.5" y1="2930.5" x2="1352.0" y2="2930.5" stroke="#000" stroke-width="10"/>
<text x="398.1" y="2995.4" font-size="45" text-anchor="middle" letter-spacing="11" class="st" stroke="#000" stroke-width="0.7">**</text>
<text x="496.3" y="2995.4" font-size="45" text-anchor="middle" letter-spacing="11" class="st" stroke="#000" stroke-width="0.7">**</text>
<text x="586.9" y="2995.4" font-size="45" text-anchor="middle" letter-spacing="11" class="st" stroke="#000" stroke-width="0.7">**</text>
<text x="773.7" y="2995.4" font-size="45" text-anchor="middle" letter-spacing="11" class="st" stroke="#000" stroke-width="0.7">**</text>
<text x="868.0" y="2995.4" font-size="45" text-anchor="middle" letter-spacing="11" class="st" stroke="#000" stroke-width="0.7">**</text>
<text x="968.6" y="2995.4" font-size="45" text-anchor="middle" letter-spacing="11" class="st" stroke="#000" stroke-width="0.7">**</text>
<text x="1238.9" y="2995.4" font-size="45" text-anchor="middle" letter-spacing="11" class="st" stroke="#000" stroke-width="0.7">*</text>
<text x="1332.5" y="2995.4" font-size="45" text-anchor="middle" letter-spacing="11" class="st" stroke="#000" stroke-width="0.7">**</text>
<rect x="1407.1" y="3195.8" width="29.0" height="29.0" fill="#a6d9ee" stroke="#000" stroke-width="3.6"/>
<text font-size="43" textLength="51" lengthAdjust="spacingAndGlyphs" x="1449.5" y="3225.5">PI-</text>
<rect x="1407.1" y="3281.4" width="29.0" height="29.8" fill="#ff0000" stroke="#000" stroke-width="3.6"/>
<text font-size="43" textLength="60" lengthAdjust="spacingAndGlyphs" x="1449.5" y="3311">PI+</text>
<text font-size="45" text-anchor="end" textLength="148" lengthAdjust="spacingAndGlyphs" transform="translate(309.0,3599) rotate(-45)">vehicle</text>
<text font-size="45" text-anchor="end" textLength="230" lengthAdjust="spacingAndGlyphs" transform="translate(402.6,3599) rotate(-45)">0.15 µg/ml</text>
<text font-size="45" text-anchor="end" textLength="205" lengthAdjust="spacingAndGlyphs" transform="translate(496.3,3599) rotate(-45)">0.4 µg/ml</text>
<text font-size="45" text-anchor="end" textLength="204" lengthAdjust="spacingAndGlyphs" transform="translate(589.9,3599) rotate(-45)">0.8 µg/ml</text>
<text font-size="45" text-anchor="end" textLength="148" lengthAdjust="spacingAndGlyphs" transform="translate(683.6,3599) rotate(-45)">vehicle</text>
<text font-size="45" text-anchor="end" textLength="230" lengthAdjust="spacingAndGlyphs" transform="translate(777.2,3599) rotate(-45)">0.15 µg/ml</text>
<text font-size="45" text-anchor="end" textLength="205" lengthAdjust="spacingAndGlyphs" transform="translate(870.8,3599) rotate(-45)">0.4 µg/ml</text>
<text font-size="45" text-anchor="end" textLength="204" lengthAdjust="spacingAndGlyphs" transform="translate(964.5,3599) rotate(-45)">0.8 µg/ml</text>
<text font-size="45" text-anchor="end" textLength="148" lengthAdjust="spacingAndGlyphs" transform="translate(1058.1,3599) rotate(-45)">vehicle</text>
<text font-size="45" text-anchor="end" textLength="230" lengthAdjust="spacingAndGlyphs" transform="translate(1151.8,3599) rotate(-45)">0.15 µg/ml</text>
<text font-size="45" text-anchor="end" textLength="205" lengthAdjust="spacingAndGlyphs" transform="translate(1245.4,3599) rotate(-45)">0.4 µg/ml</text>
<text font-size="45" text-anchor="end" textLength="204" lengthAdjust="spacingAndGlyphs" transform="translate(1339.0,3599) rotate(-45)">0.8 µg/ml</text>
</svg>
</body>
</html>
